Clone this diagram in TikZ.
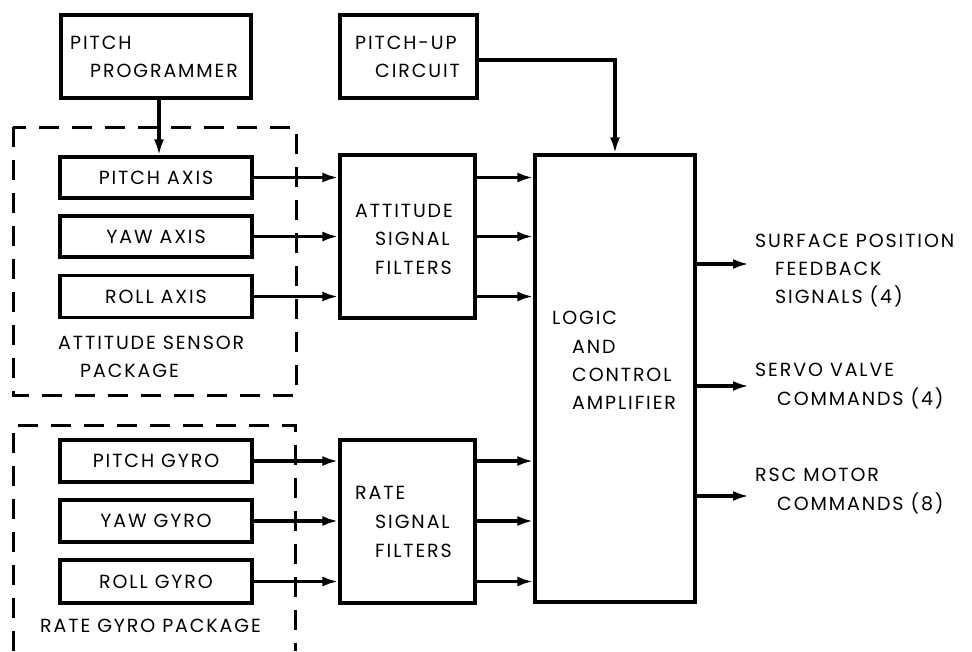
\documentclass[tikz,border=0pt]{standalone}
\usepackage{fontspec}
\setmainfont{Poppins}[LetterSpace=10]
\usetikzlibrary{arrows.meta}
\begin{document}
\begin{tikzpicture}[x=1pt,y=-1pt,
  blk/.style={draw, line width=3.2pt, minimum width=#1, inner sep=0pt, font=\fontsize{19}{22}\selectfont},
  blk/.default=192pt,
  lbl/.style={anchor=base west, inner sep=0pt, font=\fontsize{19}{22}\selectfont},
  pkg/.style={line width=3pt, dash pattern=on 20pt off 13pt},
  conn/.style={line width=3.2pt, -{Latex[length=16pt,width=10pt]}}]
\useasboundingbox (0,0) rectangle (972,651);
% packages
\draw[pkg] (13,127) rectangle (296,395);
\draw[pkg] (13,651) -- (13,425) -- (295,425) -- (295,651);
% boxes
\node[blk=190pt, minimum height=83pt] (prog) at (156,56.5) {};
\node[lbl] (progt1) at (70,49) {PITCH};
\node[lbl] (progt2) at (90,77) {PROGRAMMER};
\node[blk=137pt, minimum height=83pt] (pu) at (408.5,56.5) {};
\node[lbl] (put1) at (355,49) {PITCH-UP};
\node[lbl] (put2) at (375,77) {CIRCUIT};
\node[blk, minimum height=41pt] (pa) at (156,177.5) {PITCH AXIS};
\node[blk, minimum height=41pt] (ya) at (156,236.5) {YAW AXIS};
\node[blk, minimum height=42pt] (ra) at (156,296.5) {ROLL AXIS};
\node[lbl] (asp1) at (58,349) {ATTITUDE SENSOR};
\node[lbl] (asp2) at (80,377) {PACKAGE};
\node[blk, minimum height=42pt] (pg) at (156,461) {PITCH GYRO};
\node[blk, minimum height=42pt] (yg) at (156,521) {YAW GYRO};
\node[blk, minimum height=43pt] (rg) at (156,581.5) {ROLL GYRO};
\node[lbl] (rgp) at (40,632) {RATE GYRO PACKAGE};
\node[blk=135pt, minimum height=163pt] (af) at (407.5,236.5) {};
\node[lbl] (aft1) at (355,217) {ATTITUDE};
\node[lbl] (aft2) at (375,245) {SIGNAL};
\node[lbl] (aft3) at (375,274) {FILTERS};
\node[blk=135pt, minimum height=163pt] (rf) at (407.5,521.5) {};
\node[lbl] (rft1) at (355,499) {RATE};
\node[lbl] (rft2) at (375,528) {SIGNAL};
\node[lbl] (rft3) at (375,557) {FILTERS};
\node[blk=160pt, minimum height=447pt] (lg) at (615,378.5) {};
\node[lbl] (lgt1) at (552,324) {LOGIC};
\node[lbl] (lgt2) at (572,353) {AND};
\node[lbl] (lgt3) at (572,381) {CONTROL};
\node[lbl] (lgt4) at (572,409) {AMPLIFIER};
% outputs
\node[lbl] (o1a) at (755,247) {SURFACE POSITION};
\node[lbl] (o1b) at (775,275) {FEEDBACK};
\node[lbl] (o1c) at (775,303) {SIGNALS (4)};
\node[lbl] (o2a) at (755,376) {SERVO VALVE};
\node[lbl] (o2b) at (777,405) {COMMANDS (4)};
\node[lbl] (o3a) at (755,481) {RSC MOTOR};
\node[lbl] (o3b) at (777,510) {COMMANDS (8)};
\coordinate (e1) at (749,264);
\coordinate (e2) at (749,386);
\coordinate (e3) at (749,496);
% connectors
\draw[conn] ([xshift=3pt]prog.south) -- ([xshift=3pt]pa.north);
\draw[conn] ([yshift=-3.5pt]pu.east) -| (lg.north);
\foreach \s in {pa,ya,ra}{
  \draw[conn] (\s.east) -- (af.west |- \s.east);
  \draw[conn] (af.east |- \s.east) -- (lg.west |- \s.east);
}
\foreach \s in {pg,yg,rg}{
  \draw[conn] (\s.east) -- (rf.west |- \s.east);
  \draw[conn] (rf.east |- \s.east) -- (lg.west |- \s.east);
}
\foreach \e in {e1,e2,e3}{
  \draw[conn] (lg.east |- \e) -- (\e);
}
\end{tikzpicture}
\end{document}
